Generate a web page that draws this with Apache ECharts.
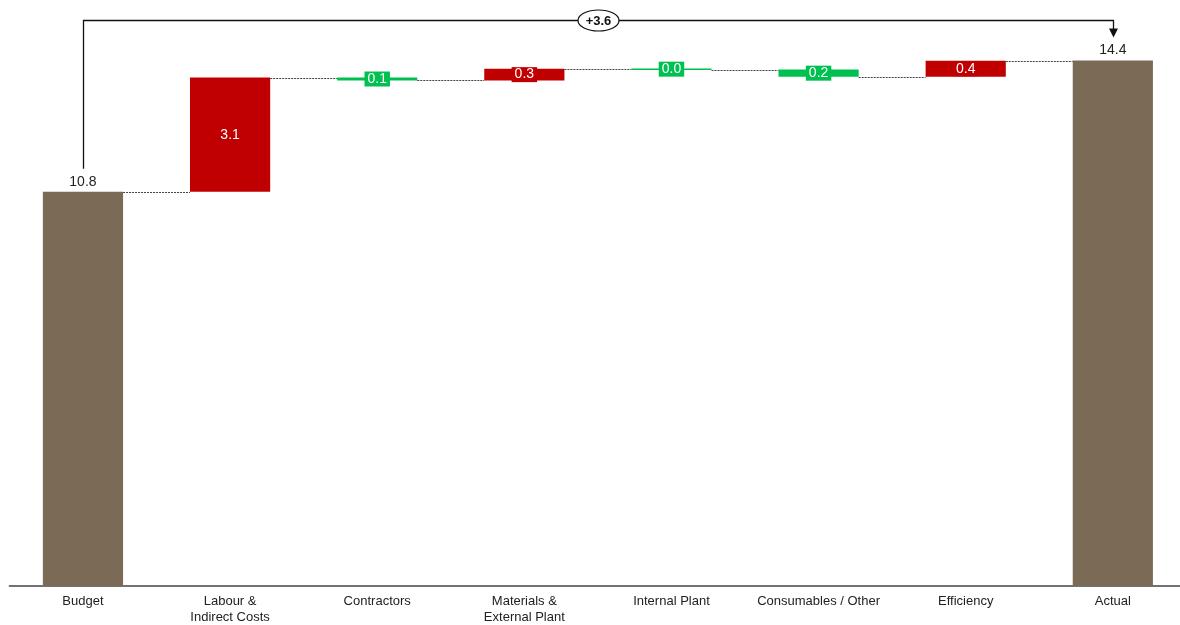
<!DOCTYPE html>
<html>
<head>
<meta charset="utf-8">
<script src="https://cdn.jsdelivr.net/npm/echarts@6/dist/echarts.min.js"></script>
<style>
html,body{margin:0;padding:0;background:#fff;overflow:hidden;}
#c{width:1187px;height:625px;}
</style>
</head>
<body>
<div id="c"></div>
<script>
const categories = ['Budget', 'Labour &\nIndirect Costs', 'Contractors', 'Materials &\nExternal Plant', 'Internal Plant', 'Consumables / Other', 'Efficiency', 'Actual'];
const budgetValue = 10.8;
const actualValue = 14.4;
const deltas = [3.13, -0.08, 0.32, -0.02, -0.20, 0.44];
const deltaLabels = ['3.1', '0.1', '0.3', '0.0', '0.2', '0.4'];
const totalLabels = ['10.8', '14.4'];
const varianceLabel = '+3.6';

const COLORS = { total: '#7B6A56', up: '#C00000', down: '#00C04F' };
const FONT = '"Liberation Sans", Arial, sans-serif';

// build rows: [index, low, high, kind(0 total,1 up,2 down), levelAfter, labelIdx]
const rows = [];
rows.push([0, 0, budgetValue, 0, budgetValue, 0]);
let run = budgetValue;
deltas.forEach((d, i) => {
  const start = run, end = run + d;
  rows.push([i + 1, Math.min(start, end), Math.max(start, end), d >= 0 ? 1 : 2, end, i]);
  run = end;
});
rows.push([categories.length - 1, 0, actualValue, 0, actualValue, 1]);

const chart = echarts.init(document.getElementById('c'), null, { renderer: 'canvas' });

function renderBar(params, api) {
  const idx = api.value(0), lo = api.value(1), hi = api.value(2), kind = api.value(3), level = api.value(4), li = api.value(5);
  const pLo = api.coord([idx, lo]);
  const pHi = api.coord([idx, hi]);
  const band = api.size([1, 0])[0];
  const w = band * 0.545;
  const x = pLo[0];
  let top = pHi[1];
  let h = pLo[1] - pHi[1];
  if (h < 1.5) { const c = (pLo[1] + pHi[1]) / 2; h = 1.5; top = c - h / 2; }
  const color = kind === 0 ? COLORS.total : (kind === 1 ? COLORS.up : COLORS.down);
  const children = [{
    type: 'rect',
    shape: { x: x - w / 2, y: top, width: w, height: h },
    style: { fill: color }
  }];
  if (kind === 0) {
    children.push({
      type: 'text',
      style: {
        text: totalLabels[li], x: x, y: top - 3, align: 'center', verticalAlign: 'bottom',
        fill: '#222', font: '14px ' + FONT
      }
    });
  } else {
    children.push({
      type: 'text',
      style: {
        text: deltaLabels[li], x: x, y: top + h / 2, align: 'center', verticalAlign: 'middle',
        fill: '#fff', font: '14px ' + FONT,
        backgroundColor: color, padding: [1, 3, 0, 3]
      }
    });
  }
  if (idx < categories.length - 1) {
    const y = Math.round(api.coord([idx, level])[1]) + 0.5;
    children.push({
      type: 'line',
      shape: { x1: x + w / 2, y1: y, x2: x + band - w / 2, y2: y },
      style: { stroke: '#444', lineWidth: 1, lineDash: [2, 1] }
    });
  }
  return { type: 'group', children: children };
}

function renderBracket(params, api) {
  const p0 = api.coord([api.value(0), api.value(2)]);
  const p1 = api.coord([api.value(1), api.value(3)]);
  const yTop = Math.round(Math.min(p0[1], p1[1]) - 40) + 0.5;
  const yL = p0[1] - 23, yR = p1[1] - 23;
  const x0 = Math.round(p0[0]) + 0.5, x1 = Math.round(p1[0]) + 0.5;
  const mid = (x0 + x1) / 2;
  return {
    type: 'group',
    children: [
      { type: 'polyline', shape: { points: [[x0, yL], [x0, yTop], [x1, yTop], [x1, yR - 8]] }, style: { stroke: '#111', lineWidth: 1.3, fill: null } },
      { type: 'polygon', shape: { points: [[x1 - 4.5, yR - 9], [x1 + 4.5, yR - 9], [x1, yR]] }, style: { fill: '#111' } },
      { type: 'ellipse', shape: { cx: mid, cy: yTop, rx: 20.5, ry: 10.5 }, style: { fill: '#fff', stroke: '#111', lineWidth: 1.2 } },
      { type: 'text', style: { text: varianceLabel, x: mid, y: yTop + 0.5, align: 'center', verticalAlign: 'middle', fill: '#111', font: 'bold 13px ' + FONT } }
    ]
  };
}

chart.setOption({
  animation: false,
  backgroundColor: '#fff',
  grid: { left: 9.4, width: 1177, top: 2, bottom: 38, containLabel: false },
  xAxis: {
    type: 'category',
    data: categories,
    axisLine: { show: true, lineStyle: { color: '#444', width: 1.5 } },
    axisTick: { show: false },
    axisLabel: { color: '#222', fontSize: 13, fontFamily: FONT, lineHeight: 16, margin: 7, interval: 0 },
    splitLine: { show: false }
  },
  yAxis: { type: 'value', min: 0, max: 16, show: false, splitLine: { show: false } },
  series: [
    {
      type: 'custom',
      renderItem: renderBar,
      encode: { x: 0, y: [1, 2] },
      data: rows,
      clip: false,
      z: 2
    },
    {
      type: 'custom',
      renderItem: renderBracket,
      encode: { x: 0, y: [2, 3] },
      data: [[0, categories.length - 1, budgetValue, actualValue]],
      clip: false,
      z: 3
    }
  ]
});
</script>
</body>
</html>
